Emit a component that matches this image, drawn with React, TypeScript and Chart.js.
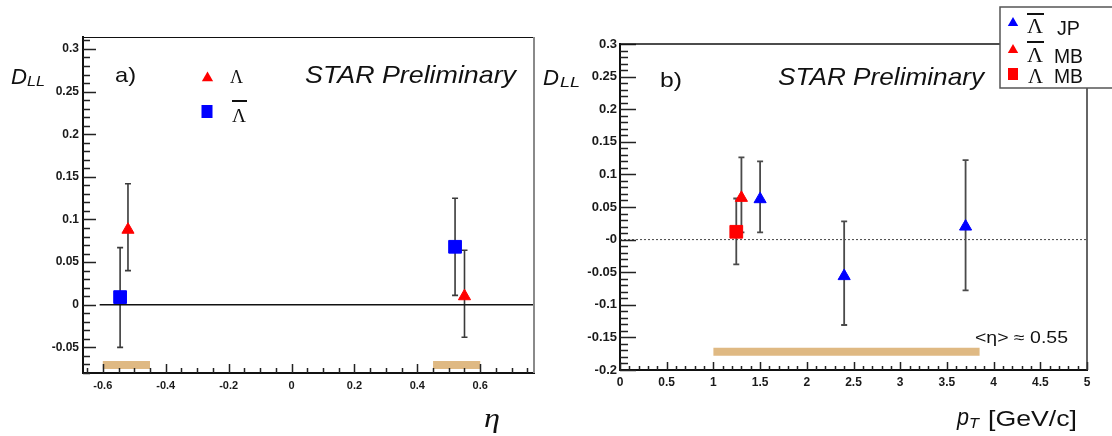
import React, { useEffect, useRef } from 'react';
import { Chart, registerables } from 'chart.js';

Chart.register(...registerables);

// ---------------- Panel a) : D_LL vs eta ----------------
const etaLambda = [-0.52, 0.55];
const dllLambda = [0.088, 0.01];
const dllLambdaLo = [0.04, -0.038];
const dllLambdaHi = [0.142, 0.064];

const etaAntiLambda = [-0.545, 0.52];
const dllAntiLambda = [0.009, 0.068];
const dllAntiLambdaLo = [-0.05, 0.011];
const dllAntiLambdaHi = [0.067, 0.125];

const sysEtaFrom = [-0.6, 0.45];
const sysEtaTo = [-0.45, 0.6];
const sysEtaLevel = [-0.0706, -0.0706];

const xTicksA = [-0.6, -0.4, -0.2, 0, 0.2, 0.4, 0.6];
const xLabelsA = ['-0.6', '-0.4', '-0.2', '0', '0.2', '0.4', '0.6'];
const yTicksA = [-0.05, 0, 0.05, 0.1, 0.15, 0.2, 0.25, 0.3];
const yLabelsA = ['-0.05', '0', '0.05', '0.1', '0.15', '0.2', '0.25', '0.3'];

// ---------------- Panel b) : D_LL vs pT ----------------
const ptAntiJP = [1.5, 2.4, 3.7];
const dllAntiJP = [0.062, -0.056, 0.02];
const dllAntiJPLo = [0.011, -0.131, -0.078];
const dllAntiJPHi = [0.12, 0.028, 0.122];

const ptAntiMB = [1.3];
const dllAntiMB = [0.064];
const dllAntiMBLo = [0.011];
const dllAntiMBHi = [0.126];

const ptLambdaMB = [1.245];
const dllLambdaMB = [0.012];
const dllLambdaMBLo = [-0.038];
const dllLambdaMBHi = [0.063];

const sysPtFrom = [1.0];
const sysPtTo = [3.85];
const sysPtLevel = [-0.172];

const xTicksB = [0, 0.5, 1, 1.5, 2, 2.5, 3, 3.5, 4, 4.5, 5];
const xLabelsB = ['0', '0.5', '1', '1.5', '2', '2.5', '3', '3.5', '4', '4.5', '5'];
const yTicksB = [-0.2, -0.15, -0.1, -0.05, 0, 0.05, 0.1, 0.15, 0.2, 0.25, 0.3];
const yLabelsB = ['-0.2', '-0.15', '-0.1', '-0.05', '-0', '0.05', '0.1', '0.15', '0.2', '0.25', '0.3'];

const RED = '#ff0000';
const BLUE = '#0000ff';
const TAN = '#dfb983';

const CANVAS_A_W = 556;
const CANVAS_B_LEFT = 530;
const CANVAS_B_W = 1112 - CANVAS_B_LEFT;

function pts(xs: number[], ys: number[]) {
  return xs.map((x, i) => ({ x, y: ys[i] }));
}

function drawText(
  ctx: CanvasRenderingContext2D,
  text: string,
  x: number,
  y: number,
  font: string,
  targetWidth?: number,
  color = '#111'
) {
  ctx.save();
  ctx.font = font;
  ctx.fillStyle = color;
  ctx.textAlign = 'left';
  ctx.textBaseline = 'alphabetic';
  const w = ctx.measureText(text).width;
  const sx = targetWidth ? targetWidth / w : 1;
  ctx.translate(x, y);
  ctx.scale(sx, 1);
  ctx.fillText(text, 0, 0);
  ctx.restore();
}

function drawLambda(
  ctx: CanvasRenderingContext2D,
  x: number,
  y: number,
  size: number,
  width: number,
  bar: number | null
) {
  drawText(ctx, 'Λ', x, y, `${size}px "Liberation Serif", "DejaVu Serif", serif`, width);
  if (bar !== null) {
    ctx.save();
    ctx.strokeStyle = '#111';
    ctx.lineWidth = 2;
    ctx.beginPath();
    ctx.moveTo(x, bar);
    ctx.lineTo(x + width + 1, bar);
    ctx.stroke();
    ctx.restore();
  }
}

function tri(ctx: CanvasRenderingContext2D, cx: number, cy: number, r: number, color: string) {
  const s = Math.sin(Math.PI / 3);
  ctx.save();
  ctx.beginPath();
  ctx.moveTo(cx, cy - r);
  ctx.lineTo(cx + r * s, cy + r / 2);
  ctx.lineTo(cx - r * s, cy + r / 2);
  ctx.closePath();
  ctx.fillStyle = color;
  ctx.fill();
  ctx.restore();
}

function rect(ctx: CanvasRenderingContext2D, cx: number, cy: number, w: number, h: number, color: string) {
  ctx.save();
  ctx.fillStyle = color;
  ctx.fillRect(cx - w / 2, cy - h / 2, w, h);
  ctx.restore();
}

type ErrSet = { xs: number[]; lo: number[]; hi: number[] };

function drawErrors(chart: any, sets: ErrSet[], color: string, lw: number, cap: number) {
  const { ctx, scales } = chart;
  const xs = scales.x;
  const ys = scales.y;
  ctx.save();
  ctx.strokeStyle = color;
  ctx.lineWidth = lw;
  sets.forEach((s) => {
    s.xs.forEach((xv, i) => {
      const px = xs.getPixelForValue(xv);
      const p1 = ys.getPixelForValue(s.lo[i]);
      const p2 = ys.getPixelForValue(s.hi[i]);
      ctx.beginPath();
      ctx.moveTo(px, p1);
      ctx.lineTo(px, p2);
      ctx.moveTo(px - cap, p1);
      ctx.lineTo(px + cap, p1);
      ctx.moveTo(px - cap, p2);
      ctx.lineTo(px + cap, p2);
      ctx.stroke();
    });
  });
  ctx.restore();
}

function drawInnerTicks(
  chart: any,
  xMajor: number[],
  xStep: number,
  xMajLen: number,
  xMinLen: number,
  yMajor: number[],
  yStep: number,
  yMajLen: number,
  yMinLen: number
) {
  const { ctx, scales, chartArea } = chart;
  const sx = scales.x;
  const sy = scales.y;
  ctx.save();
  ctx.strokeStyle = '#222';
  ctx.lineWidth = 1.5;
  ctx.beginPath();
  for (let i = Math.ceil(sx.min / xStep - 1e-6); i * xStep <= sx.max + 1e-9; i++) {
    const v = i * xStep;
    const isMaj = xMajor.some((m) => Math.abs(m - v) < 1e-6);
    const px = Math.round(sx.getPixelForValue(v)) + 0.5;
    ctx.moveTo(px, chartArea.bottom);
    ctx.lineTo(px, chartArea.bottom - (isMaj ? xMajLen : xMinLen));
  }
  for (let i = Math.ceil(sy.min / yStep - 1e-6); i * yStep <= sy.max + 1e-9; i++) {
    const v = i * yStep;
    const isMaj = yMajor.some((m) => Math.abs(m - v) < 1e-6);
    const py = Math.round(sy.getPixelForValue(v)) + 0.5;
    ctx.moveTo(chartArea.left, py);
    ctx.lineTo(chartArea.left + (isMaj ? yMajLen : yMinLen), py);
  }
  ctx.stroke();
  ctx.restore();
}

function xScale(min: number, max: number, ticks: number[], labels: string[], height: number, size: number, pad: number) {
  return {
    type: 'linear' as const,
    min,
    max,
    afterBuildTicks: (s: any) => {
      s.ticks = ticks.map((v) => ({ value: v }));
    },
    afterFit: (s: any) => {
      s.height = height;
    },
    ticks: {
      autoSkip: false,
      maxRotation: 0,
      minRotation: 0,
      padding: pad,
      color: '#1a1a1a',
      font: { family: '"Liberation Sans", Arial, sans-serif', size, weight: 'bold' as const },
      callback: (_v: any, i: number) => labels[i],
    },
    grid: { display: false, drawTicks: false },
    border: { display: true, color: '#111', width: 2 },
  };
}

function yScale(min: number, max: number, ticks: number[], labels: string[], width: number, size: number, pad: number) {
  return {
    type: 'linear' as const,
    min,
    max,
    afterBuildTicks: (s: any) => {
      s.ticks = ticks.map((v) => ({ value: v }));
    },
    afterFit: (s: any) => {
      s.width = width;
    },
    ticks: {
      autoSkip: false,
      padding: pad,
      color: '#1a1a1a',
      font: { family: '"Liberation Sans", Arial, sans-serif', size, weight: 'bold' as const },
      callback: (_v: any, i: number) => labels[i],
    },
    grid: { display: false, drawTicks: false },
    border: { display: true, color: '#111', width: 2 },
  };
}

function lineSet(data: { x: number; y: number }[], color: string, width: number, dash: number[] = []) {
  return {
    type: 'scatter' as const,
    data,
    showLine: true,
    borderColor: color,
    borderWidth: width,
    borderDash: dash,
    borderCapStyle: 'butt' as const,
    pointRadius: 0,
    fill: false,
  };
}

function markerSet(data: { x: number; y: number }[], color: string, style: string, r: number) {
  return {
    type: 'scatter' as const,
    data,
    pointStyle: style,
    pointRadius: r,
    pointBackgroundColor: color,
    pointBorderColor: color,
    pointBorderWidth: 1,
  };
}

function configA(): any {
  const sysSets = sysEtaFrom.map((f, i) =>
    lineSet([{ x: f, y: sysEtaLevel[i] }, { x: sysEtaTo[i], y: sysEtaLevel[i] }], TAN, 8)
  );
  const plugin = {
    id: 'decorA',
    beforeDatasetsDraw(chart: any) {
      drawErrors(
        chart,
        [
          { xs: etaLambda, lo: dllLambdaLo, hi: dllLambdaHi },
          { xs: etaAntiLambda, lo: dllAntiLambdaLo, hi: dllAntiLambdaHi },
        ],
        '#3a3a3a',
        1.6,
        3
      );
    },
    afterDraw(chart: any) {
      const { ctx, chartArea } = chart;
      drawInnerTicks(chart, xTicksA, 0.05, 9, 5, yTicksA, 0.01, 13, 7);
      ctx.save();
      ctx.strokeStyle = '#111';
      ctx.lineWidth = 1;
      ctx.beginPath();
      ctx.moveTo(chartArea.left, chartArea.top + 0.5);
      ctx.lineTo(chartArea.right, chartArea.top + 0.5);
      ctx.stroke();
      ctx.strokeStyle = '#8a8a8a';
      ctx.lineWidth = 2;
      ctx.beginPath();
      ctx.moveTo(chartArea.right, chartArea.top);
      ctx.lineTo(chartArea.right, chartArea.bottom);
      ctx.stroke();
      ctx.restore();

      drawText(ctx, 'D', 11, 84, 'italic 22px "Liberation Sans", Arial, sans-serif', 16);
      drawText(ctx, 'LL', 27, 86, 'italic 14px "Liberation Sans", Arial, sans-serif', 18);
      drawText(ctx, 'a)', 115, 82, '21px "Liberation Sans", Arial, sans-serif', 21);
      drawText(ctx, 'STAR Preliminary', 305, 83, 'italic 24px "Liberation Sans", Arial, sans-serif', 211);
      tri(ctx, 207.5, 78, 6.5, RED);
      drawLambda(ctx, 230, 83, 18, 13, null);
      rect(ctx, 207, 111.5, 11, 13, BLUE);
      drawLambda(ctx, 232, 122, 18, 14, 101);
      drawText(ctx, 'η', 484, 427, 'italic 28px "Liberation Serif", "DejaVu Serif", serif', 16);
    },
  };
  return {
    type: 'scatter',
    data: {
      datasets: [
        markerSet(pts(etaLambda, dllLambda), RED, 'triangle', 7),
        markerSet(pts(etaAntiLambda, dllAntiLambda), BLUE, 'rect', 9),
        ...sysSets,
        lineSet([{ x: -0.61, y: 0 }, { x: 0.77, y: 0 }], '#111', 1.5),
      ],
    },
    options: {
      animation: false,
      responsive: false,
      maintainAspectRatio: false,
      layout: { padding: { top: 37, right: CANVAS_A_W - 534, left: 0, bottom: 0 } },
      plugins: { legend: { display: false }, tooltip: { enabled: false }, title: { display: false } },
      scales: {
        x: xScale(-0.663, 0.771, xTicksA, xLabelsA, 63, 11, 6),
        y: yScale(-0.08, 0.314, yTicksA, yLabelsA, 83, 12, 4),
      },
    },
    plugins: [plugin],
  };
}

function configB(): any {
  const OX = CANVAS_B_LEFT;
  const sysSets = sysPtFrom.map((f, i) =>
    lineSet([{ x: f, y: sysPtLevel[i] }, { x: sysPtTo[i], y: sysPtLevel[i] }], TAN, 8)
  );
  const plugin = {
    id: 'decorB',
    beforeDatasetsDraw(chart: any) {
      drawErrors(
        chart,
        [
          { xs: ptLambdaMB, lo: dllLambdaMBLo, hi: dllLambdaMBHi },
          { xs: ptAntiMB, lo: dllAntiMBLo, hi: dllAntiMBHi },
          { xs: ptAntiJP, lo: dllAntiJPLo, hi: dllAntiJPHi },
        ],
        '#4a4a4a',
        1.8,
        3
      );
    },
    afterDraw(chart: any) {
      const { ctx, chartArea } = chart;
      drawInnerTicks(chart, xTicksB, 0.1, 8, 4, yTicksB, 0.01, 16, 8);
      ctx.save();
      ctx.strokeStyle = '#111';
      ctx.lineWidth = 1.5;
      ctx.beginPath();
      ctx.moveTo(chartArea.left, chartArea.top);
      ctx.lineTo(chartArea.right, chartArea.top);
      ctx.stroke();
      ctx.strokeStyle = '#333';
      ctx.beginPath();
      ctx.moveTo(chartArea.right, chartArea.top);
      ctx.lineTo(chartArea.right, chartArea.bottom);
      ctx.stroke();
      ctx.restore();

      drawText(ctx, 'D', 543 - OX, 85, 'italic 22px "Liberation Sans", Arial, sans-serif', 16);
      drawText(ctx, 'LL', 560 - OX, 87, 'italic 14px "Liberation Sans", Arial, sans-serif', 20);
      drawText(ctx, 'b)', 660 - OX, 87, '21px "Liberation Sans", Arial, sans-serif', 22);
      drawText(ctx, 'STAR Preliminary', 778 - OX, 85, 'italic 24px "Liberation Sans", Arial, sans-serif', 206);
      drawText(ctx, '<η> ≈ 0.55', 975 - OX, 343, '16px "Liberation Sans", Arial, sans-serif', 93);
      drawText(ctx, 'p', 957 - OX, 425, 'italic 23px "Liberation Sans", Arial, sans-serif', 12);
      drawText(ctx, 'T', 969 - OX, 428, 'italic 14px "Liberation Sans", Arial, sans-serif', 10);
      drawText(ctx, '[GeV/c]', 988 - OX, 426, '22px "Liberation Sans", Arial, sans-serif', 89);

      // legend box
      ctx.save();
      ctx.fillStyle = '#ffffff';
      ctx.fillRect(1000 - OX, 7, 140, 81);
      ctx.strokeStyle = '#555';
      ctx.lineWidth = 1.5;
      ctx.strokeRect(1000 - OX, 7, 140, 81);
      ctx.restore();
      tri(ctx, 1013 - OX, 23, 6, BLUE);
      drawLambda(ctx, 1027 - OX, 33, 21, 16, 14);
      drawText(ctx, 'JP', 1057 - OX, 35, '20px "Liberation Sans", Arial, sans-serif', 23);
      tri(ctx, 1013 - OX, 50, 6, RED);
      drawLambda(ctx, 1027 - OX, 62, 21, 16, 42);
      drawText(ctx, 'MB', 1054 - OX, 63, '20px "Liberation Sans", Arial, sans-serif', 29);
      rect(ctx, 1013 - OX, 74, 10, 12, RED);
      drawLambda(ctx, 1028 - OX, 83, 21, 15, null);
      drawText(ctx, 'MB', 1054 - OX, 83, '20px "Liberation Sans", Arial, sans-serif', 29);
    },
  };
  return {
    type: 'scatter',
    data: {
      datasets: [
        markerSet(pts(ptLambdaMB, dllLambdaMB), RED, 'rect', 9),
        markerSet(pts(ptAntiMB, dllAntiMB), RED, 'triangle', 7),
        markerSet(pts(ptAntiJP, dllAntiJP), BLUE, 'triangle', 7),
        ...sysSets,
        lineSet([{ x: 0, y: 0 }, { x: 5, y: 0 }], '#444', 1, [2, 2]),
      ],
    },
    options: {
      animation: false,
      responsive: false,
      maintainAspectRatio: false,
      layout: { padding: { top: 44, right: 1112 - 1087, left: 0, bottom: 0 } },
      plugins: { legend: { display: false }, tooltip: { enabled: false }, title: { display: false } },
      scales: {
        x: xScale(0, 5, xTicksB, xLabelsB, 66, 12, 5),
        y: yScale(-0.2, 0.3, yTicksB, yLabelsB, 620 - OX, 13, 3),
      },
    },
    plugins: [plugin],
  };
}

export default function App() {
  const refA = useRef<HTMLCanvasElement>(null);
  const refB = useRef<HTMLCanvasElement>(null);
  useEffect(() => {
    const a = new Chart(refA.current as HTMLCanvasElement, configA());
    const b = new Chart(refB.current as HTMLCanvasElement, configB());
    return () => {
      a.destroy();
      b.destroy();
    };
  }, []);
  return (
    <div style={{ position: 'fixed', left: 0, top: 0, width: 1112, height: 436, background: '#fff', overflow: 'hidden' }}>
      <canvas
        ref={refA}
        width={CANVAS_A_W}
        height={436}
        style={{ position: 'absolute', left: 0, top: 0, width: CANVAS_A_W, height: 436 }}
      />
      <canvas
        ref={refB}
        width={CANVAS_B_W}
        height={436}
        style={{ position: 'absolute', left: CANVAS_B_LEFT, top: 0, width: CANVAS_B_W, height: 436 }}
      />
    </div>
  );
}
